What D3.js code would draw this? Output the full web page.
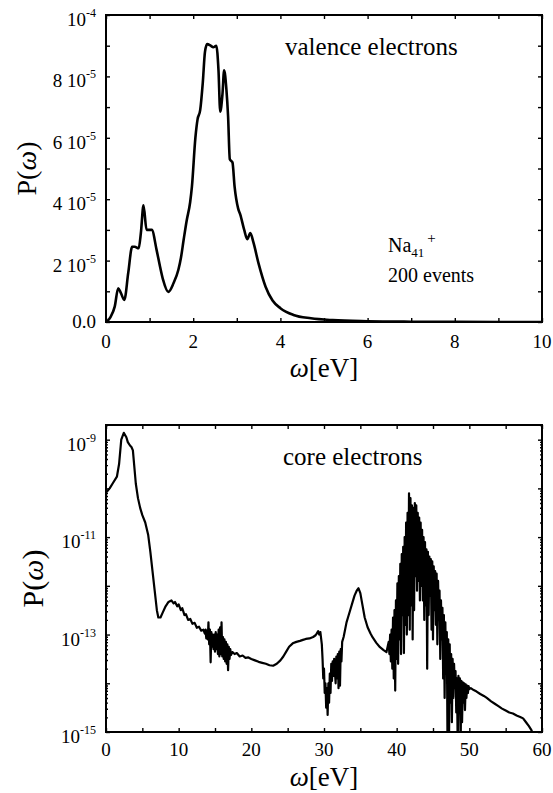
<!DOCTYPE html>
<html>
<head>
<meta charset="utf-8">
<script src="https://cdn.jsdelivr.net/npm/d3@7"></script>
<style>
  body { margin: 0; background: #fff; }
  text { font-family: "Liberation Serif", "Times New Roman", serif; fill: #000; }
  .tick line { stroke: #000; stroke-width: 1.4; }
  .domain { display: none; }
</style>
</head>
<body>
<svg id="fig" width="553" height="793"></svg>
<script>
    // valence electrons: omega [eV] and P(omega)
    var valenceX = [0, 0.1, 0.2, 0.28, 0.34, 0.42, 0.51, 0.6, 0.66, 0.75, 0.8, 0.86, 0.93, 1.05, 1.16, 1.24, 1.31, 1.43, 1.55, 1.66, 1.72, 1.78, 1.85, 1.93, 1.97, 2.05, 2.1, 2.16, 2.22, 2.27, 2.32, 2.4, 2.46, 2.53, 2.58, 2.62, 2.67, 2.71, 2.76, 2.8, 2.84, 2.9, 2.95, 3.03, 3.08, 3.17, 3.24, 3.31, 3.38, 3.5, 3.66, 3.82, 4.0, 4.3, 4.7, 5.2, 6.0, 7.0, 8.0, 10.0];
    var valenceP = [0, 0.15e-5, 0.5e-5, 1.1e-5, 0.95e-5, 0.72e-5, 1.6e-5, 2.45e-5, 2.45e-5, 2.4e-5, 2.9e-5, 3.8e-5, 3.0e-5, 3.0e-5, 2.35e-5, 1.8e-5, 1.37e-5, 0.98e-5, 1.27e-5, 1.7e-5, 2.1e-5, 2.67e-5, 3.3e-5, 3.9e-5, 4.4e-5, 6.0e-5, 6.6e-5, 6.9e-5, 7.8e-5, 8.8e-5, 9.05e-5, 9.0e-5, 8.95e-5, 9.0e-5, 8.2e-5, 6.85e-5, 7.4e-5, 8.2e-5, 7.6e-5, 6.7e-5, 5.3e-5, 5.2e-5, 4.4e-5, 3.7e-5, 3.5e-5, 3.0e-5, 2.7e-5, 2.9e-5, 2.6e-5, 1.9e-5, 1.15e-5, 0.7e-5, 0.45e-5, 0.23e-5, 0.12e-5, 0.06e-5, 0.025e-5, 0.01e-5, 0.005e-5, 0];

    // core electrons: [omega eV, log10 P(omega)]
    var coreSeries = [
      [0, -10.09], [0.5, -10.0], [1.0, -9.88], [1.5, -9.76], [1.8, -9.5], [2.1, -9.0], [2.45, -8.86], [2.8, -8.95],
      [3.0, -9.05], [3.3, -9.12], [3.5, -9.15], [3.7, -9.22], [4.1, -9.9], [4.4, -10.2], [4.7, -10.4], [5.0, -10.55],
      [5.4, -10.7], [5.8, -10.95], [6.1, -11.3], [6.4, -11.7], [6.7, -12.1], [7.0, -12.5], [7.2, -12.65], [7.5, -12.65],
      [7.8, -12.55], [8.2, -12.42], [8.6, -12.33], [9.0, -12.3], [9.3, -12.36], [9.5, -12.33], [9.8, -12.42], [10.0, -12.38],
      [10.3, -12.5], [10.5, -12.46], [10.8, -12.6], [11.0, -12.58], [11.3, -12.7], [11.6, -12.68], [11.9, -12.78], [12.2, -12.76],
      [12.5, -12.86], [12.8, -12.84], [13.1, -12.92], [13.4, -12.9],
      [13.6, -12.98], [13.7, -12.9], [13.8, -13.08], [13.9, -12.92], [14.0, -13.1], [14.1, -12.75], [14.2, -13.2], [14.3, -12.9],
      [14.4, -13.57], [14.5, -12.95], [14.6, -13.25], [14.7, -13.0], [14.8, -13.3], [14.9, -13.0], [15.0, -13.35], [15.1, -12.95],
      [15.2, -13.3], [15.3, -13.0], [15.4, -13.4], [15.5, -12.9], [15.6, -13.45], [15.7, -12.85], [15.8, -13.4], [15.9, -12.75],
      [16.0, -13.45], [16.1, -13.05], [16.2, -13.5], [16.3, -13.1], [16.4, -13.55], [16.5, -13.15], [16.6, -13.6], [16.7, -13.2],
      [16.8, -13.73], [16.9, -13.25], [17.0, -13.5], [17.1, -13.3], [17.2, -13.42], [17.4, -13.36],
      [17.7, -13.4], [18.0, -13.38], [18.4, -13.45], [18.8, -13.43], [19.2, -13.48], [19.6, -13.47], [20.0, -13.5], [20.5, -13.53],
      [21.0, -13.56], [21.5, -13.58], [22.0, -13.6], [22.5, -13.63], [23.0, -13.64], [23.5, -13.6], [24.0, -13.53], [24.4, -13.45],
      [24.8, -13.35], [25.2, -13.25], [25.7, -13.18], [26.2, -13.15], [26.7, -13.13], [27.1, -13.11], [27.5, -13.09], [28.0, -13.08],
      [28.5, -13.05], [28.8, -13.02], [29.0, -12.98], [29.2, -12.93], [29.35, -13.0], [29.5, -12.95], [29.7, -13.2],
      [29.8, -13.5], [29.9, -13.9], [30.0, -13.7], [30.1, -14.2], [30.2, -14.0], [30.3, -14.5], [30.4, -14.1], [30.5, -14.65],
      [30.6, -14.0], [30.7, -14.4], [30.8, -13.8], [30.9, -14.2], [31.0, -13.6], [31.1, -13.95], [31.2, -13.55], [31.3, -13.85],
      [31.4, -13.5], [31.6, -14.0], [31.7, -13.45], [31.8, -13.9], [31.9, -13.4], [32.0, -14.1], [32.1, -13.35], [32.2, -14.05],
      [32.3, -13.3], [32.4, -13.55], [32.5, -13.15], [32.7, -13.05], [32.9, -12.9], [33.1, -12.75],
      [33.3, -12.65], [33.6, -12.5], [33.9, -12.35], [34.2, -12.2], [34.5, -12.1], [34.75, -12.05], [35.0, -12.15], [35.3, -12.4],
      [35.6, -12.65], [36.0, -12.85], [36.4, -12.98], [36.7, -13.06], [37.2, -13.17], [37.7, -13.26], [38.2, -13.32], [38.6, -13.36],
      [38.9, -13.15], [39.0, -13.4], [39.1, -13.0], [39.2, -13.55], [39.3, -12.9], [39.4, -13.7], [39.5, -12.65], [39.6, -13.9],
      [39.7, -12.5], [39.8, -14.15], [39.9, -12.3], [40.0, -13.5], [40.1, -11.95], [40.2, -13.6], [40.3, -11.8], [40.4, -13.1],
      [40.5, -11.55], [40.6, -13.4], [40.7, -11.35], [40.8, -12.6], [40.9, -11.2], [41.0, -13.38], [41.1, -11.0], [41.2, -12.8],
      [41.3, -10.7], [41.4, -13.0], [41.5, -10.5], [41.6, -12.6], [41.7, -10.1], [41.8, -12.9], [41.9, -10.2], [42.0, -12.4],
      [42.1, -10.35], [42.2, -13.1], [42.3, -10.4], [42.4, -12.5], [42.5, -10.3], [42.6, -11.8], [42.7, -10.35], [42.8, -12.1],
      [42.9, -10.5], [43.0, -11.9], [43.1, -10.6], [43.2, -12.3], [43.3, -10.7], [43.4, -12.0], [43.5, -10.85], [43.6, -12.3],
      [43.7, -11.0], [43.8, -12.7], [43.9, -11.1], [44.0, -12.4], [44.1, -11.25], [44.2, -13.7], [44.3, -11.3], [44.4, -12.6],
      [44.5, -11.4], [44.6, -12.2], [44.7, -11.45], [44.8, -12.9], [44.9, -11.5], [45.0, -13.1], [45.1, -11.6], [45.2, -12.5],
      [45.3, -11.7], [45.4, -12.8], [45.5, -11.75], [45.6, -13.2], [45.7, -11.9], [45.8, -12.7], [45.9, -12.1], [46.0, -13.5],
      [46.1, -12.3], [46.2, -13.1], [46.3, -12.45], [46.4, -13.9], [46.5, -12.6], [46.6, -14.3], [46.7, -12.75], [46.8, -13.8],
      [46.9, -12.95], [47.0, -15.3], [47.1, -13.1], [47.2, -15.3], [47.3, -13.2], [47.4, -14.4], [47.5, -13.4], [47.6, -14.8],
      [47.7, -13.5], [47.8, -14.3], [47.9, -13.6], [48.0, -14.1], [48.1, -13.75], [48.2, -14.6], [48.3, -13.9], [48.4, -15.3],
      [48.5, -13.85], [48.6, -14.5], [48.7, -13.9], [48.8, -15.3], [48.9, -13.95], [49.0, -14.8], [49.1, -13.98], [49.2, -14.4],
      [49.3, -14.0], [49.4, -14.55], [49.5, -14.02], [49.6, -14.3], [49.7, -14.05], [49.8, -14.2], [49.9, -14.06], [50.0, -14.12],
      [50.2, -14.1], [50.6, -14.14], [51.0, -14.17], [51.5, -14.22], [52.0, -14.26], [52.4, -14.3], [53.0, -14.37], [53.5, -14.42],
      [54.0, -14.47], [54.5, -14.52], [55.0, -14.56], [55.5, -14.6], [56.0, -14.62], [56.5, -14.66], [57.0, -14.69], [57.4, -14.72],
      [57.8, -14.8], [58.2, -14.88], [58.5, -14.95], [58.8, -15.05]
    ];

    // tick labels
    var topYTicks = [0, 2e-5, 4e-5, 6e-5, 8e-5, 1e-4];
    var topYBase = ["0.0", "2 10", "4 10", "6 10", "8 10", "10"];
    var topYSup = ["", "-5", "-5", "-5", "-5", "-4"];
    var topXLabels = [0, 2, 4, 6, 8, 10];
    var botYTicks = [1e-15, 1e-13, 1e-11, 1e-9];
    var botYSup = ["-15", "-13", "-11", "-9"];
    var botXLabels = [0, 10, 20, 30, 40, 50, 60];

    var svg = d3.select("#fig");

    // panel boxes
    var boxA = { left: 106, right: 542, top: 15, bottom: 322 };
    var boxB = { left: 106, right: 542, top: 425, bottom: 732 };

    var x1 = d3.scaleLinear().domain([0, 10]).range([boxA.left, boxA.right]);
    var y1 = d3.scaleLinear().domain([0, 1e-4]).range([boxA.bottom, boxA.top]);
    var x2 = d3.scaleLinear().domain([0, 60]).range([boxB.left, boxB.right]);
    var y2 = d3.scaleLog().domain([1e-15, 2e-9]).range([boxB.bottom, boxB.top]);

    function noText(g) { g.selectAll("text").remove(); }

    function ticksOn(box, xs, ys, xTicks, yTicks, size) {
      svg.append("g").attr("transform", "translate(0," + box.bottom + ")")
        .call(d3.axisBottom(xs).tickValues(xTicks).tickSize(-size)).call(noText);
      svg.append("g").attr("transform", "translate(0," + box.top + ")")
        .call(d3.axisTop(xs).tickValues(xTicks).tickSize(-size)).call(noText);
      svg.append("g").attr("transform", "translate(" + box.left + ",0)")
        .call(d3.axisLeft(ys).tickValues(yTicks).tickSize(-size)).call(noText);
      svg.append("g").attr("transform", "translate(" + box.right + ",0)")
        .call(d3.axisRight(ys).tickValues(yTicks).tickSize(-size)).call(noText);
    }

    function clip(id, box) {
      svg.append("clipPath").attr("id", id).append("rect")
        .attr("x", box.left).attr("y", box.top)
        .attr("width", box.right - box.left).attr("height", box.bottom - box.top);
    }

    // ---------- top panel ----------
    clip("c1", boxA);
    ticksOn(boxA, x1, y1, d3.range(0, 11, 1), d3.range(0, 11).map(function (i) { return i * 1e-5; }), 4);

    var valence = valenceX.map(function (d, i) { return [d, valenceP[i]]; });
    svg.append("path")
      .datum(valence)
      .attr("clip-path", "url(#c1)")
      .attr("fill", "none")
      .attr("stroke", "#000")
      .attr("stroke-width", 2.6)
      .attr("stroke-linejoin", "round")
      .attr("d", d3.line()
        .x(function (d) { return x1(d[0]); })
        .y(function (d) { return y1(d[1]); })
        .curve(d3.curveMonotoneX));

    svg.append("rect")
      .attr("x", boxA.left).attr("y", boxA.top)
      .attr("width", boxA.right - boxA.left).attr("height", boxA.bottom - boxA.top)
      .attr("fill", "none").attr("stroke", "#000").attr("stroke-width", 2);

    // y labels
    topYTicks.forEach(function (v, i) {
      var t = svg.append("text")
        .attr("x", boxA.left - 10)
        .attr("y", y1(v) + (topYSup[i] ? 11 : 6))
        .attr("text-anchor", "end")
        .attr("font-size", 19);
      t.append("tspan").text(topYBase[i]);
      if (topYSup[i]) t.append("tspan").attr("dy", -9).attr("font-size", 12).text(topYSup[i]);
    });
    svg.selectAll(".xl1").data(topXLabels).enter().append("text")
      .attr("class", "xl1")
      .attr("x", function (d) { return x1(d); })
      .attr("y", boxA.bottom + 26)
      .attr("text-anchor", "middle")
      .attr("font-size", 19)
      .text(function (d) { return d; });

    // axis titles
    var xt1 = svg.append("text").attr("x", (boxA.left + boxA.right) / 2).attr("y", boxA.bottom + 55)
      .attr("text-anchor", "middle").attr("font-size", 27);
    xt1.append("tspan").attr("font-style", "italic").text("ω");
    xt1.append("tspan").text("[eV]");

    var yt1 = svg.append("text")
      .attr("transform", "translate(36," + (boxA.top + boxA.bottom) / 2 + ")rotate(-90)")
      .attr("text-anchor", "middle").attr("font-size", 28);
    yt1.append("tspan").text("P(");
    yt1.append("tspan").attr("font-style", "italic").text("ω");
    yt1.append("tspan").text(")");

    svg.append("text").attr("x", 285).attr("y", 55).attr("font-size", 25).text("valence electrons");
    var na = svg.append("text").attr("x", 388).attr("y", 252).attr("font-size", 20);
    na.append("tspan").text("Na");
    na.append("tspan").attr("dy", 5).attr("font-size", 13).text("41");
    na.append("tspan").attr("dy", -14).attr("dx", 3).attr("font-size", 15).text("+");
    svg.append("text").attr("x", 388).attr("y", 282).attr("font-size", 20).text("200 events");

    // ---------- bottom panel ----------
    clip("c2", boxB);
    ticksOn(boxB, x2, y2, d3.range(0, 61, 5), [1e-15, 1e-14, 1e-13, 1e-12, 1e-11, 1e-10, 1e-9], 4);
    var minor = [];
    for (var e = -15; e <= -9; e++) {
      for (var m = 2; m <= 9; m++) {
        if (m * Math.pow(10, e) <= 2e-9) minor.push(m * Math.pow(10, e));
      }
    }
    svg.append("g").attr("transform", "translate(" + boxB.left + ",0)")
      .call(d3.axisLeft(y2).tickValues(minor).tickSize(-2)).call(noText);
    svg.append("g").attr("transform", "translate(" + boxB.right + ",0)")
      .call(d3.axisRight(y2).tickValues(minor).tickSize(-2)).call(noText);

    svg.append("path")
      .datum(coreSeries)
      .attr("clip-path", "url(#c2)")
      .attr("fill", "none")
      .attr("stroke", "#000")
      .attr("stroke-width", 2.2)
      .attr("stroke-linejoin", "round")
      .attr("d", d3.line()
        .x(function (d) { return x2(d[0]); })
        .y(function (d) { return y2(Math.pow(10, d[1])); }));

    svg.append("rect")
      .attr("x", boxB.left).attr("y", boxB.top)
      .attr("width", boxB.right - boxB.left).attr("height", boxB.bottom - boxB.top)
      .attr("fill", "none").attr("stroke", "#000").attr("stroke-width", 2);

    botYTicks.forEach(function (v, i) {
      var t = svg.append("text")
        .attr("x", boxB.left - 10)
        .attr("y", y2(v) + 11)
        .attr("text-anchor", "end")
        .attr("font-size", 19);
      t.append("tspan").text("10");
      t.append("tspan").attr("dy", -9).attr("font-size", 12).text(botYSup[i]);
    });
    svg.selectAll(".xl2").data(botXLabels).enter().append("text")
      .attr("class", "xl2")
      .attr("x", function (d) { return x2(d); })
      .attr("y", boxB.bottom + 24)
      .attr("text-anchor", "middle")
      .attr("font-size", 19)
      .text(function (d) { return d; });

    var xt2 = svg.append("text").attr("x", (boxB.left + boxB.right) / 2).attr("y", boxB.bottom + 54)
      .attr("text-anchor", "middle").attr("font-size", 27);
    xt2.append("tspan").attr("font-style", "italic").text("ω");
    xt2.append("tspan").text("[eV]");

    var yt2 = svg.append("text")
      .attr("transform", "translate(43," + (boxB.top + boxB.bottom) / 2 + ")rotate(-90)")
      .attr("text-anchor", "middle").attr("font-size", 30);
    yt2.append("tspan").text("P(");
    yt2.append("tspan").attr("font-style", "italic").text("ω");
    yt2.append("tspan").text(")");

    svg.append("text").attr("x", 283).attr("y", 465).attr("font-size", 25).text("core electrons");
</script>
</body>
</html>
